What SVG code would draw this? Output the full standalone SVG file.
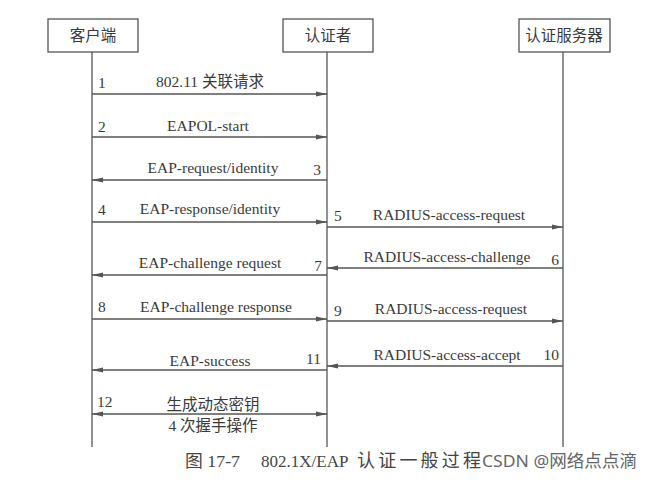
<svg xmlns="http://www.w3.org/2000/svg" width="653" height="487" viewBox="0 0 653 487">
<style>
.box{fill:#fff;stroke:#555;stroke-width:1.3}
.life{stroke:#555;stroke-width:1.3}
.msg{stroke:#555;stroke-width:1.3;fill:none}
text{font-family:"Liberation Serif","Noto Sans CJK SC",serif;font-size:15.5px;fill:#3a3a3a}
.c{text-anchor:middle}
.e{text-anchor:end}
.cap{font-size:17px;fill:#444}
.wm{font-family:"Noto Sans","Noto Sans CJK SC",sans-serif;font-size:17px;fill:#666}
</style>
<defs>
<marker id="ah" markerUnits="userSpaceOnUse" markerWidth="12" markerHeight="6" refX="11" refY="3" orient="auto">
<path d="M0,0.6 L11,3 L0,5.4 z" fill="#555"/>
</marker>
<marker id="ahs" markerUnits="userSpaceOnUse" markerWidth="12" markerHeight="6" refX="0" refY="3" orient="auto">
<path d="M11,0.6 L0,3 L11,5.4 z" fill="#555"/>
</marker>
</defs>
<rect width="653" height="487" fill="#fff"/>
<g id="client">
<rect class="box" x="48" y="19" width="90" height="33"/>
<text class="c" x="93" y="41">客户端</text>
<line class="life" x1="92" y1="52" x2="92" y2="447"/>
</g>
<g id="authenticator">
<rect class="box" x="283" y="19" width="90" height="33"/>
<text class="c" x="328" y="41">认证者</text>
<line class="life" x1="327" y1="52" x2="327" y2="447"/>
</g>
<g id="server">
<rect class="box" x="519" y="19" width="91" height="33"/>
<text class="c" x="564" y="41">认证服务器</text>
<line class="life" x1="563" y1="52" x2="563" y2="447"/>
</g>
<g id="connectors">
<line class="msg" x1="92" y1="94" x2="327" y2="94" marker-end="url(#ah)"/>
<line class="msg" x1="92" y1="137" x2="327" y2="137" marker-end="url(#ah)"/>
<line class="msg" x1="327" y1="180" x2="92" y2="180" marker-end="url(#ah)"/>
<line class="msg" x1="92" y1="222" x2="327" y2="222" marker-end="url(#ah)"/>
<line class="msg" x1="327" y1="227" x2="563" y2="227" marker-end="url(#ah)"/>
<line class="msg" x1="563" y1="268" x2="327" y2="268" marker-end="url(#ah)"/>
<line class="msg" x1="327" y1="275" x2="92" y2="275" marker-end="url(#ah)"/>
<line class="msg" x1="92" y1="319" x2="327" y2="319" marker-end="url(#ah)"/>
<line class="msg" x1="327" y1="321" x2="563" y2="321" marker-end="url(#ah)"/>
<line class="msg" x1="563" y1="366" x2="327" y2="366" marker-end="url(#ah)"/>
<line class="msg" x1="327" y1="370" x2="92" y2="370" marker-end="url(#ah)"/>
<line class="msg" x1="92" y1="414" x2="327" y2="414" marker-start="url(#ahs)" marker-end="url(#ah)"/>
</g>
<g id="labels">
<text x="98" y="88">1</text>
<text class="c" x="210" y="87">802.11 关联请求</text>
<text x="98" y="132">2</text>
<text class="c" x="208" y="131">EAPOL-start</text>
<text class="c" x="213" y="173">EAP-request/identity</text>
<text class="e" x="321" y="175">3</text>
<text x="98" y="215">4</text>
<text class="c" x="210" y="214">EAP-response/identity</text>
<text x="334" y="221">5</text>
<text class="c" x="449" y="220">RADIUS-access-request</text>
<text class="c" x="447" y="262">RADIUS-access-challenge</text>
<text class="e" x="559" y="265">6</text>
<text class="c" x="210" y="268">EAP-challenge request</text>
<text class="e" x="322" y="271">7</text>
<text x="98" y="312">8</text>
<text class="c" x="216" y="312">EAP-challenge response</text>
<text x="334" y="316">9</text>
<text class="c" x="451" y="314">RADIUS-access-request</text>
<text class="c" x="447" y="360">RADIUS-access-accept</text>
<text class="e" x="559" y="360">10</text>
<text class="c" x="210" y="366">EAP-success</text>
<text class="e" x="321" y="364">11</text>
<text x="97" y="407">12</text>
<text class="c" x="213" y="410">生成动态密钥</text>
<text class="c" x="213" y="431">4 次握手操作</text>
</g>
<g id="caption">
<text class="cap" x="185" y="467" textLength="55" lengthAdjust="spacingAndGlyphs">图 17-7</text>
<text class="cap" x="261" y="467">802.1X/EAP</text>
<text class="cap" x="357" y="467" style="font-size:18px" textLength="124" lengthAdjust="spacing">认证一般过程</text>
<text class="wm" x="482" y="467" textLength="155" lengthAdjust="spacingAndGlyphs">CSDN @网络点点滴</text>
</g>
</svg>
